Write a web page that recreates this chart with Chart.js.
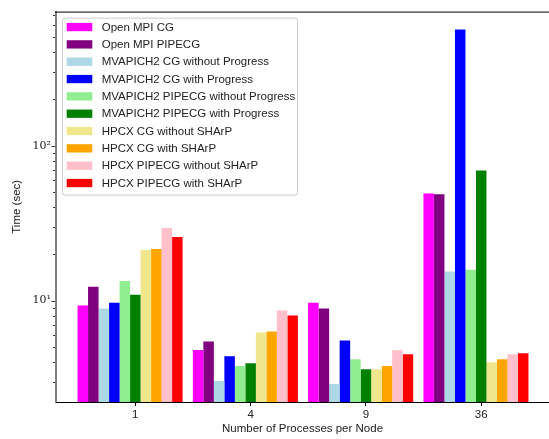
<!DOCTYPE html>
<html>
<head>
<meta charset="utf-8">
<script src="https://cdn.jsdelivr.net/npm/chart.js@4"></script>
<style>
  html, body { margin: 0; padding: 0; background: #ffffff; }
  #wrap { width: 549px; height: 439px; }
</style>
</head>
<body>
<div id="wrap"><canvas id="chart" width="549" height="439"></canvas></div>
<script>
// Processes per node (x categories)
const categories = ['1', '4', '9', '36'];

// Series names and colours
const seriesLabels = [
  'Open MPI CG',
  'Open MPI PIPECG',
  'MVAPICH2 CG without Progress',
  'MVAPICH2 CG with Progress',
  'MVAPICH2 PIPECG without Progress',
  'MVAPICH2 PIPECG with Progress',
  'HPCX CG without SHArP',
  'HPCX CG with SHArP',
  'HPCX PIPECG without SHArP',
  'HPCX PIPECG with SHArP'
];
const seriesColors = [
  '#ff00ff', '#800080', '#add8e6', '#0000ff', '#90ee90',
  '#008000', '#f0e68c', '#ffa500', '#ffc0cb', '#ff0000'
];

// Run times in seconds, one value per category
const openmpiCG          = [9.3, 4.8, 9.7, 49.2];
const openmpiPIPECG      = [12.3, 5.45, 8.9, 48.5];
const mvapichCGNoProg    = [8.9, 3.03, 2.9, 15.4];
const mvapichCGProg      = [9.7, 4.38, 5.54, 562];
const mvapichPipeNoProg  = [13.4, 3.78, 4.19, 15.8];
const mvapichPipeProg    = [10.9, 3.94, 3.61, 69.2];
const hpcxCGNoSharp      = [21.2, 6.24, 3.61, 4.01];
const hpcxCGSharp        = [21.5, 6.33, 3.78, 4.19];
const hpcxPipeNoSharp    = [29.4, 8.63, 4.78, 4.51];
const hpcxPipeSharp      = [25.7, 8.01, 4.51, 4.57];

const seriesValues = [
  openmpiCG, openmpiPIPECG, mvapichCGNoProg, mvapichCGProg, mvapichPipeNoProg,
  mvapichPipeProg, hpcxCGNoSharp, hpcxCGSharp, hpcxPipeNoSharp, hpcxPipeSharp
];

// Log axis ticks
const yMajorTicks = [10, 100];
const yMajorLabels = ['10\u00B9', '10\u00B2'];
const yMinorTicks = [3, 4, 5, 6, 7, 8, 9, 20, 30, 40, 50, 60, 70, 80, 90, 200, 300, 400, 500, 600, 700];

// ---- layout / style ----
const groupFraction = 0.911;              // share of a category slot used by a bar group
const barUnits = groupFraction / seriesValues.length;
const groupShift = -barUnits / 2;         // tick sits on the 6th bar of each group
const xMin = -0.688, xMax = 3.588;
const yMin = 2.218, yMax = 732.8;
const sansFont = "'Liberation Sans', Arial, sans-serif";
const serifFont = "'DejaVu Serif', 'Liberation Serif', serif";
const textColor = '#222222';

const datasets = seriesValues.map((vals, s) => ({
  label: seriesLabels[s],
  data: vals.map((v, i) => ({ x: i + groupShift, y: v })),
  backgroundColor: seriesColors[s],
  borderWidth: 0,
  categoryPercentage: groupFraction,
  barPercentage: 1.0
}));

// Top spine, y tick marks and the inset legend
const framePlugin = {
  id: 'frameAndLegend',
  afterDraw(chart) {
    const { ctx, chartArea } = chart;
    const yScale = chart.scales.y;
    ctx.save();
    // top spine
    ctx.strokeStyle = '#000000';
    ctx.lineWidth = 1;
    ctx.beginPath();
    ctx.moveTo(chartArea.left - 1, chartArea.top + 0.5);
    ctx.lineTo(chartArea.right, chartArea.top + 0.5);
    ctx.stroke();
    // y tick marks
    ctx.strokeStyle = '#333333';
    ctx.lineWidth = 1;
    const drawTick = (v, len) => {
      const py = Math.round(yScale.getPixelForValue(v)) + 0.5;
      ctx.beginPath();
      ctx.moveTo(chartArea.left - 1 - len, py);
      ctx.lineTo(chartArea.left - 1, py);
      ctx.stroke();
    };
    yMinorTicks.forEach(v => drawTick(v, 2));
    yMajorTicks.forEach(v => drawTick(v, 3.5));

    // legend box
    const bx = chartArea.left + 6.5, by = chartArea.top + 6.5, bw = 235, bh = 177;
    ctx.beginPath();
    ctx.roundRect(bx, by, bw, bh, 2.5);
    ctx.fillStyle = 'rgba(255,255,255,0.8)';
    ctx.fill();
    ctx.strokeStyle = '#cccccc';
    ctx.lineWidth = 1;
    ctx.stroke();
    ctx.font = '11.5px ' + sansFont;
    ctx.textBaseline = 'middle';
    ctx.textAlign = 'left';
    chart.data.datasets.forEach((ds, i) => {
      const cy = by + 9 + i * 17.33;
      ctx.fillStyle = ds.backgroundColor;
      ctx.fillRect(bx + 4.2, cy - 4.2, 25.6, 8.3);
      ctx.fillStyle = textColor;
      ctx.fillText(ds.label, bx + 39.2, cy + 0.5);
    });
    ctx.restore();
  }
};

new Chart(document.getElementById('chart'), {
  type: 'bar',
  data: { datasets },
  plugins: [framePlugin],
  options: {
    responsive: false,
    animation: false,
    devicePixelRatio: 1,
    layout: { padding: { top: 9, left: 0, right: 0, bottom: 0 } },
    plugins: { legend: { display: false }, tooltip: { enabled: false } },
    scales: {
      x: {
        type: 'linear',
        position: 'bottom',
        min: xMin,
        max: xMax,
        offset: false,
        grid: { display: true, drawOnChartArea: false, drawTicks: true, tickLength: 4, tickColor: '#000000', tickWidth: 1, offset: false },
        border: { display: true, color: '#000000', width: 1 },
        afterBuildTicks: s => { s.ticks = categories.map((c, i) => ({ value: i })); },
        ticks: {
          autoSkip: false, maxRotation: 0, padding: 2, color: textColor,
          font: { family: sansFont, size: 11.5 },
          callback: (v, i) => categories[i]
        },
        title: {
          display: true, text: 'Number of Processes per Node', color: textColor,
          font: { family: sansFont, size: 11.5 }, padding: { top: 0, bottom: 3 }
        },
        afterFit: s => { s.height = 37; }
      },
      y: {
        type: 'logarithmic',
        min: yMin,
        max: yMax,
        grid: { display: true, drawOnChartArea: false, drawTicks: false },
        border: { display: true, color: 'rgba(0,0,0,0.5)', width: 2 },
        afterBuildTicks: s => { s.ticks = yMajorTicks.map(v => ({ value: v })); },
        ticks: {
          autoSkip: false, padding: 5, color: textColor,
          font: { family: serifFont, size: 11 },
          callback: (v, i) => yMajorLabels[i]
        },
        title: {
          display: true, text: 'Time (sec)', color: textColor,
          font: { family: sansFont, size: 11.5 }, padding: { top: 10, bottom: 0 }
        },
        afterFit: s => { s.width = 56; }
      }
    }
  }
});
</script>
</body>
</html>
